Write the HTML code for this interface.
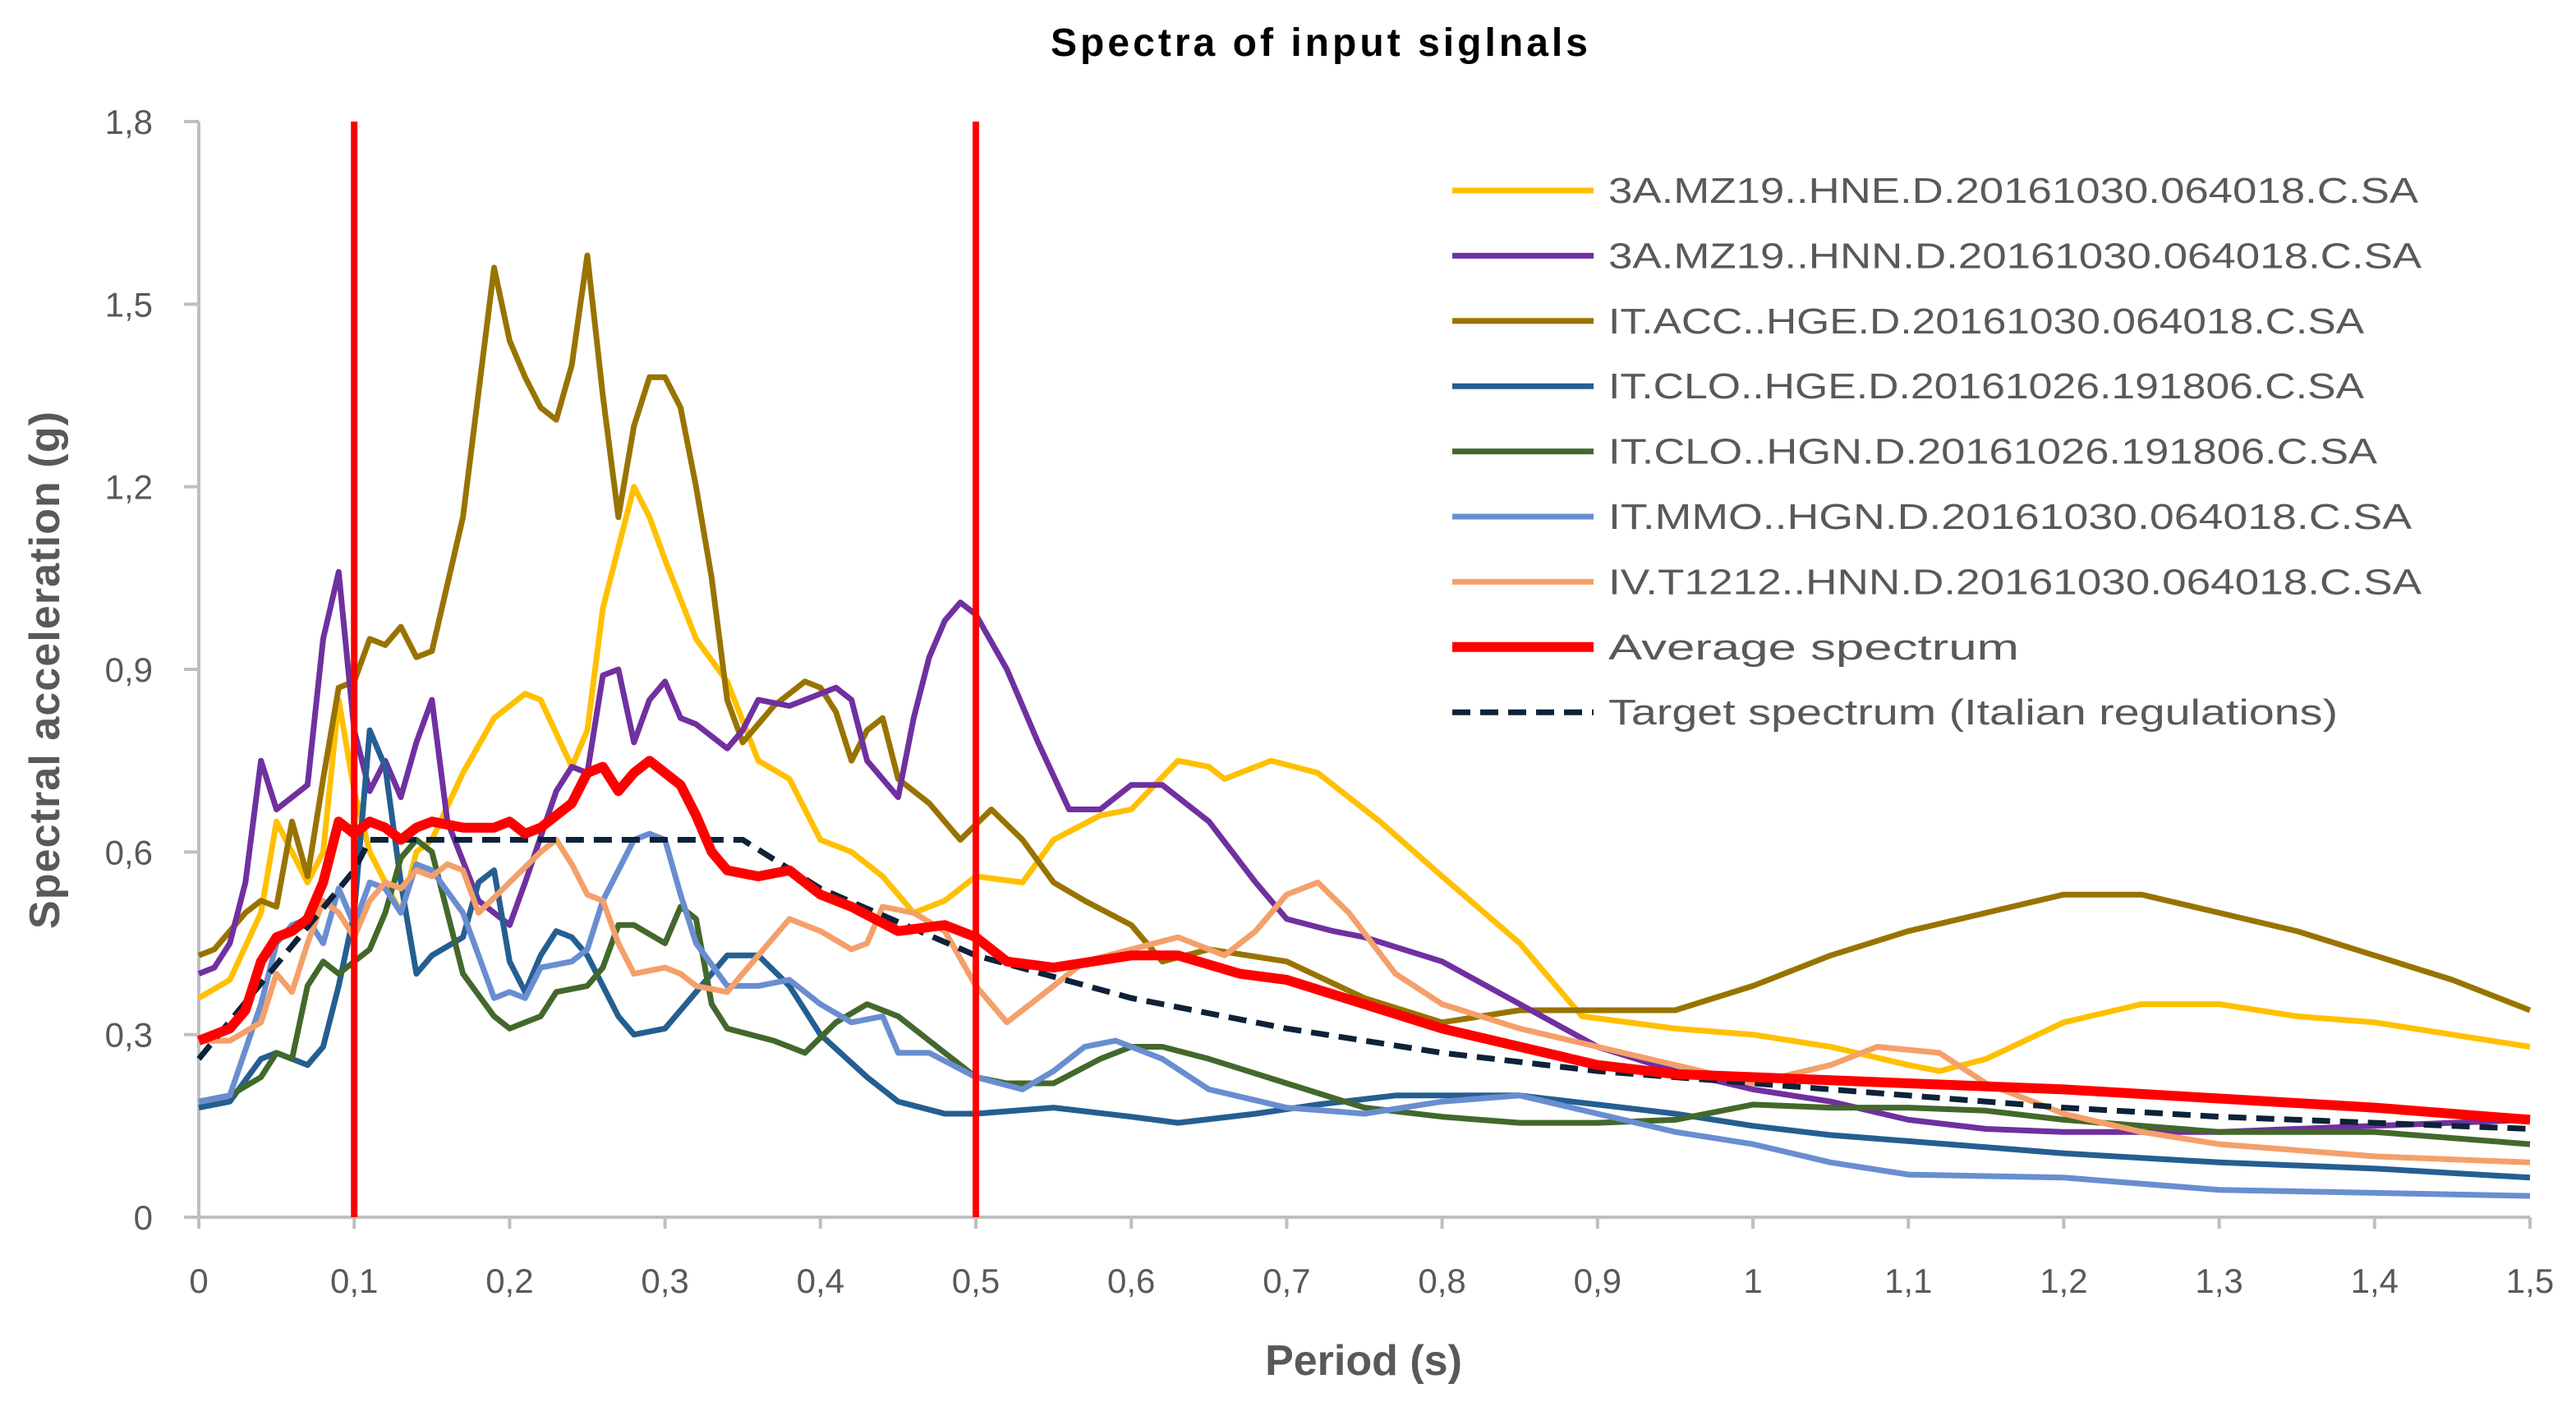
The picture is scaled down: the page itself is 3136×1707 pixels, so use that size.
<!DOCTYPE html>
<html><head><meta charset="utf-8"><style>
html,body{margin:0;padding:0;background:#fff;}
svg{display:block;font-family:"Liberation Sans",sans-serif;}
</style></head><body>
<svg id="chart" width="3136" height="1707" viewBox="0 0 3136 1707" xmlns="http://www.w3.org/2000/svg">
<rect width="3136" height="1707" fill="#fff"/>
<text x="1606" y="68" text-anchor="middle" font-size="48" font-weight="bold" fill="#000" textLength="654">Spectra of input siglnals</text>
<g id="grid"></g>
<g id="series"></g>
<g id="legend"></g>
<text x="1660" y="1674" text-anchor="middle" font-size="52" font-weight="bold" fill="#595959">Period (s)</text>
<text transform="translate(72,816) rotate(-90)" text-anchor="middle" font-size="52" font-weight="bold" fill="#595959" textLength="630">Spectral acceleration (g)</text>
</svg>
<script>
const xTicks=[0,0.1,0.2,0.3,0.4,0.5,0.6,0.7,0.8,0.9,1,1.1,1.2,1.3,1.4,1.5];
const yTicks=[0,0.3,0.6,0.9,1.2,1.5,1.8];
const seriesNames=["3A.MZ19..HNE.D.20161030.064018.C.SA","3A.MZ19..HNN.D.20161030.064018.C.SA","IT.ACC..HGE.D.20161030.064018.C.SA","IT.CLO..HGE.D.20161026.191806.C.SA","IT.CLO..HGN.D.20161026.191806.C.SA","IT.MMO..HGN.D.20161030.064018.C.SA","IV.T1212..HNN.D.20161030.064018.C.SA","Average spectrum","Target spectrum (Italian regulations)"];
const refLines=[0.1,0.5];

const hneT=[0,0.02,0.04,0.05,0.06,0.07,0.08,0.09,0.1,0.11,0.12,0.13,0.14,0.15,0.17,0.19,0.21,0.22,0.24,0.25,0.26,0.27,0.28,0.29,0.3,0.32,0.34,0.36,0.38,0.4,0.42,0.44,0.46,0.48,0.5,0.53,0.55,0.58,0.6,0.63,0.65,0.66,0.69,0.72,0.76,0.8,0.85,0.89,0.95,1.0,1.05,1.1,1.12,1.15,1.2,1.25,1.3,1.35,1.4,1.45,1.5];
const hneV=[0.36,0.39,0.5,0.65,0.6,0.55,0.6,0.85,0.7,0.6,0.55,0.5,0.6,0.62,0.73,0.82,0.86,0.85,0.74,0.8,1.0,1.1,1.2,1.15,1.08,0.95,0.88,0.75,0.72,0.62,0.6,0.56,0.5,0.52,0.56,0.55,0.62,0.66,0.67,0.75,0.74,0.72,0.75,0.73,0.65,0.56,0.45,0.33,0.31,0.3,0.28,0.25,0.24,0.26,0.32,0.35,0.35,0.33,0.32,0.3,0.28];

const hnnT=[0,0.01,0.02,0.03,0.04,0.05,0.06,0.07,0.08,0.09,0.1,0.11,0.12,0.13,0.14,0.15,0.16,0.18,0.19,0.2,0.21,0.23,0.24,0.25,0.26,0.27,0.28,0.29,0.3,0.31,0.32,0.34,0.35,0.36,0.38,0.39,0.41,0.42,0.43,0.45,0.46,0.47,0.48,0.49,0.5,0.52,0.54,0.56,0.58,0.6,0.62,0.65,0.68,0.7,0.73,0.75,0.8,0.85,0.9,0.95,1.0,1.05,1.1,1.15,1.2,1.3,1.4,1.5];
const hnnV=[0.4,0.41,0.45,0.55,0.75,0.67,0.69,0.71,0.95,1.06,0.8,0.7,0.75,0.69,0.78,0.85,0.65,0.52,0.5,0.48,0.55,0.7,0.74,0.73,0.89,0.9,0.78,0.85,0.88,0.82,0.81,0.77,0.8,0.85,0.84,0.85,0.87,0.85,0.75,0.69,0.82,0.92,0.98,1.01,0.99,0.9,0.78,0.67,0.67,0.71,0.71,0.65,0.55,0.49,0.47,0.46,0.42,0.35,0.28,0.24,0.21,0.19,0.16,0.145,0.14,0.14,0.15,0.16];

const accT=[0,0.01,0.02,0.03,0.04,0.05,0.06,0.07,0.08,0.09,0.1,0.11,0.12,0.13,0.14,0.15,0.17,0.19,0.2,0.21,0.22,0.23,0.24,0.25,0.26,0.27,0.28,0.29,0.3,0.31,0.32,0.33,0.34,0.35,0.37,0.39,0.4,0.41,0.42,0.43,0.44,0.45,0.47,0.49,0.51,0.53,0.55,0.57,0.6,0.62,0.65,0.7,0.75,0.8,0.85,0.9,0.95,1.0,1.05,1.1,1.15,1.2,1.25,1.3,1.35,1.4,1.45,1.5];
const accV=[0.43,0.44,0.47,0.5,0.52,0.51,0.65,0.56,0.72,0.87,0.88,0.95,0.94,0.97,0.92,0.93,1.15,1.56,1.44,1.38,1.33,1.31,1.4,1.58,1.35,1.15,1.3,1.38,1.38,1.33,1.2,1.05,0.85,0.78,0.84,0.88,0.87,0.83,0.75,0.8,0.82,0.72,0.68,0.62,0.67,0.62,0.55,0.52,0.48,0.42,0.44,0.42,0.36,0.32,0.34,0.34,0.34,0.38,0.43,0.47,0.5,0.53,0.53,0.5,0.47,0.43,0.39,0.34];

const cloeT=[0,0.02,0.04,0.05,0.06,0.07,0.08,0.09,0.1,0.11,0.12,0.13,0.14,0.15,0.17,0.18,0.19,0.2,0.21,0.22,0.23,0.24,0.25,0.27,0.28,0.3,0.32,0.34,0.36,0.38,0.4,0.43,0.45,0.48,0.5,0.55,0.6,0.63,0.68,0.72,0.77,0.85,0.9,0.95,1.0,1.05,1.1,1.2,1.3,1.4,1.5];
const cloeV=[0.18,0.19,0.26,0.27,0.26,0.25,0.28,0.38,0.5,0.8,0.74,0.55,0.4,0.43,0.46,0.55,0.57,0.42,0.37,0.43,0.47,0.46,0.43,0.33,0.3,0.31,0.37,0.43,0.43,0.38,0.3,0.23,0.19,0.17,0.17,0.18,0.165,0.155,0.17,0.185,0.2,0.2,0.185,0.17,0.15,0.135,0.125,0.105,0.09,0.08,0.065];

const clonT=[0,0.02,0.04,0.05,0.06,0.07,0.08,0.09,0.1,0.11,0.12,0.13,0.14,0.15,0.16,0.17,0.19,0.2,0.22,0.23,0.25,0.26,0.27,0.28,0.3,0.31,0.32,0.33,0.34,0.37,0.39,0.41,0.43,0.45,0.48,0.5,0.52,0.55,0.58,0.6,0.62,0.65,0.7,0.75,0.8,0.85,0.9,0.95,1.0,1.05,1.1,1.15,1.2,1.3,1.4,1.5];
const clonV=[0.19,0.2,0.23,0.27,0.26,0.38,0.42,0.4,0.42,0.44,0.5,0.59,0.62,0.6,0.5,0.4,0.33,0.31,0.33,0.37,0.38,0.41,0.48,0.48,0.45,0.51,0.49,0.35,0.31,0.29,0.27,0.32,0.35,0.33,0.27,0.23,0.22,0.22,0.26,0.28,0.28,0.26,0.22,0.18,0.165,0.155,0.155,0.16,0.185,0.18,0.18,0.175,0.16,0.14,0.14,0.12];

const mmoT=[0,0.02,0.04,0.05,0.06,0.07,0.08,0.09,0.1,0.11,0.12,0.13,0.14,0.15,0.17,0.19,0.2,0.21,0.22,0.24,0.25,0.26,0.27,0.28,0.29,0.3,0.31,0.32,0.34,0.36,0.38,0.4,0.42,0.44,0.45,0.47,0.5,0.53,0.55,0.57,0.59,0.62,0.65,0.7,0.75,0.8,0.85,0.9,0.95,1.0,1.05,1.1,1.2,1.3,1.4,1.5];
const mmoV=[0.19,0.2,0.35,0.45,0.48,0.49,0.45,0.54,0.48,0.55,0.54,0.5,0.58,0.57,0.5,0.36,0.37,0.36,0.41,0.42,0.44,0.52,0.57,0.62,0.63,0.62,0.53,0.45,0.38,0.38,0.39,0.35,0.32,0.33,0.27,0.27,0.23,0.21,0.24,0.28,0.29,0.26,0.21,0.18,0.17,0.19,0.2,0.17,0.14,0.12,0.09,0.07,0.065,0.045,0.04,0.035];

const t1212T=[0,0.02,0.04,0.05,0.06,0.07,0.08,0.09,0.1,0.11,0.12,0.13,0.14,0.15,0.16,0.17,0.18,0.2,0.22,0.23,0.24,0.25,0.26,0.27,0.28,0.3,0.31,0.32,0.34,0.36,0.38,0.4,0.42,0.43,0.44,0.46,0.48,0.5,0.52,0.54,0.57,0.6,0.63,0.66,0.68,0.7,0.72,0.74,0.77,0.8,0.85,0.9,0.95,1.0,1.05,1.08,1.12,1.15,1.2,1.25,1.3,1.4,1.5];
const t1212V=[0.29,0.29,0.32,0.4,0.37,0.45,0.52,0.5,0.46,0.52,0.55,0.54,0.57,0.56,0.58,0.57,0.5,0.55,0.6,0.62,0.58,0.53,0.52,0.45,0.4,0.41,0.4,0.38,0.37,0.43,0.49,0.47,0.44,0.45,0.51,0.5,0.47,0.38,0.32,0.36,0.42,0.44,0.46,0.43,0.47,0.53,0.55,0.5,0.4,0.35,0.31,0.28,0.25,0.22,0.25,0.28,0.27,0.22,0.17,0.14,0.12,0.1,0.09];

const avgT=[0,0.02,0.03,0.04,0.05,0.06,0.07,0.08,0.09,0.1,0.11,0.12,0.13,0.14,0.15,0.17,0.19,0.2,0.21,0.22,0.23,0.24,0.25,0.26,0.27,0.28,0.29,0.3,0.31,0.32,0.33,0.34,0.36,0.38,0.4,0.42,0.45,0.48,0.5,0.52,0.55,0.6,0.63,0.67,0.7,0.75,0.8,0.85,0.9,0.95,1.0,1.1,1.2,1.3,1.4,1.5];
const avgV=[0.29,0.31,0.34,0.42,0.46,0.47,0.49,0.55,0.65,0.63,0.65,0.64,0.62,0.64,0.65,0.64,0.64,0.65,0.63,0.64,0.66,0.68,0.73,0.74,0.7,0.73,0.75,0.73,0.71,0.66,0.6,0.57,0.56,0.57,0.53,0.51,0.47,0.48,0.46,0.42,0.41,0.43,0.43,0.4,0.39,0.35,0.31,0.28,0.25,0.235,0.23,0.22,0.21,0.195,0.18,0.16];

const tgtT=[0,0.1,0.11,0.35,0.4,0.5,0.6,0.7,0.8,0.9,1.0,1.1,1.2,1.3,1.4,1.5];
const tgtV=[0.26,0.57,0.62,0.62,0.54,0.43,0.36,0.31,0.27,0.24,0.22,0.2,0.18,0.165,0.155,0.145];

const NS="http://www.w3.org/2000/svg";
const X0=242,X1=3080,Y0=1482,Y1=148;
function xs(v){return X0+(v-0)/(1.5-0)*(X1-X0);}
function ys(v){return Y0-(v-0)/(1.8-0)*(Y0-Y1);}
function mk(tag,parent){const e=document.createElementNS(NS,tag);parent.appendChild(e);return e;}
const grid=document.getElementById('grid'),ser=document.getElementById('series'),leg=document.getElementById('legend');

let ax=mk('line',grid);


ax.setAttribute('x1',X0);ax.setAttribute('x2',X0);ax.setAttribute('y1',Y1);ax.setAttribute('y2',Y0+12);ax.setAttribute('stroke','#bfbfbf');ax.setAttribute('stroke-width','4');
let bx=mk('line',grid);


bx.setAttribute('x1',X0-18);bx.setAttribute('x2',X1);bx.setAttribute('y1',Y0);bx.setAttribute('y2',Y0);bx.setAttribute('stroke','#bfbfbf');bx.setAttribute('stroke-width','4');
yTicks.forEach(v=>{
  const t=mk('line',grid);
  
  
  t.setAttribute('x1',X0-18);t.setAttribute('x2',X0);t.setAttribute('y1',ys(v));t.setAttribute('y2',ys(v));t.setAttribute('stroke','#bfbfbf');t.setAttribute('stroke-width','4');
  const l=mk('text',grid);
  
  
  l.setAttribute('x',186);l.setAttribute('y',ys(v)+15);l.setAttribute('text-anchor','end');l.setAttribute('font-size','42');l.setAttribute('fill','#595959');
  l.textContent=String(v).replace('.',',');
});
xTicks.forEach(v=>{
  const t=mk('line',grid);
  
  
  t.setAttribute('x1',xs(v));t.setAttribute('x2',xs(v));t.setAttribute('y1',Y0);t.setAttribute('y2',Y0+14);t.setAttribute('stroke','#bfbfbf');t.setAttribute('stroke-width','4');
  const l=mk('text',grid);
  
  
  l.setAttribute('x',xs(v));l.setAttribute('y',1574);l.setAttribute('text-anchor','middle');l.setAttribute('font-size','42');l.setAttribute('fill','#595959');
  l.textContent=String(v).replace('.',',');
});

const series=[
 {T:hneT,V:hneV,c:'#ffc000',w:7,name:'series-hne'},
 {T:hnnT,V:hnnV,c:'#7030a0',w:7,name:'series-hnn'},
 {T:accT,V:accV,c:'#997300',w:7,name:'series-acc-hge'},
 {T:cloeT,V:cloeV,c:'#255e91',w:7,name:'series-clo-hge'},
 {T:clonT,V:clonV,c:'#43682b',w:7,name:'series-clo-hgn'},
 {T:mmoT,V:mmoV,c:'#698ed0',w:7,name:'series-mmo-hgn'},
 {T:t1212T,V:t1212V,c:'#f4a06a',w:7,name:'series-t1212-hnn'},
 {T:avgT,V:avgV,c:'#ff0000',w:12,name:'average-spectrum'},
 {T:tgtT,V:tgtV,c:'#0d2238',w:7,dash:'22 12',name:'target-spectrum'}
];
const order=[0,2,1,3,4,5,6,8,7];
order.forEach(i=>{
  const s=series[i];
  const p=mk('polyline',ser);
  
  
  p.setAttribute('points',s.T.map((t,k)=>xs(t).toFixed(1)+','+ys(s.V[k]).toFixed(1)).join(' '));
  p.setAttribute('fill','none');p.setAttribute('stroke',s.c);p.setAttribute('stroke-width',s.w);p.setAttribute('stroke-linejoin','round');
  if(s.dash)p.setAttribute('stroke-dasharray',s.dash);
});
refLines.forEach(v=>{
  const r=mk('line',ser);
  
  
  r.setAttribute('x1',xs(v));r.setAttribute('x2',xs(v));r.setAttribute('y1',ys(1.8));r.setAttribute('y2',Y0);r.setAttribute('stroke','#ff0000');r.setAttribute('stroke-width','8');
});
const legW=[986,990,920,920,936,978,990,500,888];
series.forEach((s,i)=>{
  const y=232+i*79.4;
  const bg=mk('rect',leg);
  
  
  bg.setAttribute('x',1760);bg.setAttribute('y',y-36);bg.setAttribute('width',1250);bg.setAttribute('height',72);bg.setAttribute('fill','#fff');
  const l=mk('line',leg);
  
  
  l.setAttribute('x1',1768);l.setAttribute('x2',1940);l.setAttribute('y1',y);l.setAttribute('y2',y);l.setAttribute('stroke',s.c);l.setAttribute('stroke-width',s.w);
  if(s.dash)l.setAttribute('stroke-dasharray',s.dash);
  const t=mk('text',leg);
  
  
  t.setAttribute('x',1958);t.setAttribute('y',y+15);t.setAttribute('font-size','44');t.setAttribute('fill','#595959');
  t.setAttribute('textLength',legW[i]);t.setAttribute('lengthAdjust','spacingAndGlyphs');
  t.textContent=seriesNames[i];
});
</script>
</body></html>
